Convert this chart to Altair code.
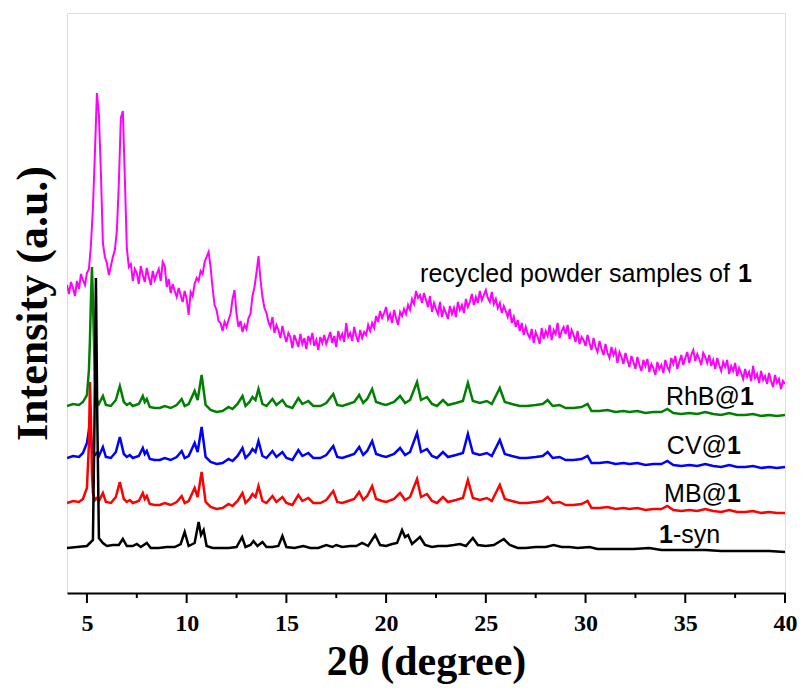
import altair as alt
import pandas as pd

# ---------------- data ----------------
# recycled powder samples of 1 (magenta), sampled every 0.1 deg from 4.0 to 40.0
theta_recycled = [round(4.0 + 0.1 * i, 1) for i in range(361)]
recycled = [
    308, 299, 311, 305, 297, 312, 304, 319, 313, 308,
    320, 324, 348, 385, 440, 500, 478, 420, 350, 336,
    330, 318, 327, 336, 343, 362, 410, 475, 482, 415,
    345, 326, 329, 312, 324, 320, 309, 327, 318, 311,
    325, 316, 308, 322, 313, 319, 324, 312, 331, 327,
    306, 314, 300, 309, 302, 296, 305, 298, 291, 302,
    294, 278, 301, 297, 309, 315, 312, 322, 319, 331,
    336, 341, 326, 305, 288, 283, 272, 270, 262, 271,
    266, 273, 279, 294, 303, 279, 266, 272, 261, 268,
    264, 275, 279, 297, 306, 320, 337, 314, 296, 285,
    280, 271, 266, 276, 260, 268, 263, 255, 267, 258,
    251, 260, 256, 245, 258, 252, 246, 259, 249, 255,
    244, 257, 251, 260, 247, 253, 243, 256, 250, 258,
    249, 255, 261, 250, 257, 246, 262, 254, 259, 251,
    270, 256, 260, 252, 266, 257, 251, 263, 255, 261,
    258, 268, 262, 270, 265, 277, 271, 282, 275, 280,
    286, 274, 279, 270, 283, 275, 268, 281, 277, 284,
    279, 288, 283, 294, 289, 302, 295, 298, 290, 300,
    293, 286, 297, 281, 290, 284, 279, 291, 276, 285,
    280, 274, 287, 279, 285, 276, 291, 283, 288, 280,
    294, 286, 291, 299, 288, 296, 290, 302, 293, 298,
    303, 295, 291, 301, 289, 294, 285, 290, 280, 287,
    282, 276, 284, 270, 276, 266, 273, 262, 270, 258,
    266, 259, 255, 264, 250, 261, 256, 249, 265, 254,
    262, 257, 268, 253, 263, 259, 270, 255, 262, 266,
    259, 268, 254, 263, 258, 251, 262, 249, 256, 253,
    247, 258, 250, 243, 255, 246, 241, 252, 244, 238,
    249, 240, 235, 246, 238, 243, 230, 241, 236, 229,
    240, 233, 226, 237, 231, 224, 236, 228, 222, 233,
    227, 234, 221, 229, 225, 218, 231, 224, 228, 220,
    233, 226, 222, 235, 229, 237, 224, 231, 238, 228,
    235, 241, 230, 238, 243, 232, 239, 234, 228, 240,
    236, 230, 238, 227, 233, 224, 235, 228, 222, 231,
    226, 233, 219, 227, 222, 230, 217, 225, 220, 214,
    224, 216, 221, 212, 227, 215, 219, 210, 222, 213,
    217, 209, 220, 212, 206, 218, 210, 214, 204, 212,
    209,
]

# dye-loaded samples share one 2theta list
theta_dye = [
    4.0, 4.3, 4.6, 4.8, 5.0, 5.1, 5.15, 5.2, 5.25, 5.3,
    5.4, 5.5, 5.6, 5.8, 5.95, 6.2, 6.45, 6.65, 6.85, 7.0,
    7.15, 7.3, 7.6, 7.8, 7.9, 8.0, 8.15, 8.4, 8.65, 8.9,
    9.2, 9.5, 9.75, 9.9, 10.1, 10.4, 10.55, 10.75, 10.95, 11.2,
    11.5, 11.8, 12.1, 12.3, 12.55, 12.8, 12.95, 13.15, 13.3, 13.45,
    13.6, 13.8, 14.0, 14.3, 14.5, 14.8, 15.0, 15.3, 15.6, 15.8,
    16.1, 16.35, 16.7, 17.0, 17.35, 17.55, 17.8, 18.1, 18.4, 18.65,
    18.85, 19.05, 19.3, 19.5, 19.8, 20.0, 20.4, 20.7, 20.95, 21.2,
    21.55, 21.75, 22.05, 22.3, 22.55, 22.85, 23.1, 23.5, 23.85, 24.1,
    24.35, 24.7, 25.05, 25.3, 25.7, 25.95, 26.3, 26.7, 27.05, 27.5,
    27.85, 28.1, 28.35, 28.7, 29.0, 29.4, 29.8, 30.1, 30.3, 30.7,
    31.1, 31.5, 31.9, 32.2, 32.6, 33.0, 33.4, 33.8, 34.1, 34.4,
    34.8, 35.2, 35.6, 36.0, 36.4, 36.8, 37.2, 37.6, 38.0, 38.4,
    38.8, 39.2, 39.6, 40.0,
]
rhb = [
    187, 189, 188, 191, 198, 223, 253, 293, 326, 293,
    213, 193, 189, 197, 188, 187, 193, 207, 191, 188,
    190, 187, 189, 197, 191, 194, 186, 185, 185, 187,
    185, 188, 194, 187, 189, 202, 193, 218, 188, 183,
    181, 182, 186, 184, 189, 197, 187, 191, 196, 193,
    204, 189, 187, 194, 188, 193, 187, 185, 195, 189,
    192, 187, 187, 190, 199, 188, 187, 189, 191, 198,
    190, 194, 204, 191, 189, 188, 191, 197, 190, 193,
    211, 193, 196, 189, 187, 193, 188, 190, 192, 210,
    192, 190, 192, 189, 205, 191, 189, 187, 187, 188,
    189, 193, 187, 188, 185, 185, 186, 189, 182, 182,
    183, 181, 182, 181, 182, 180, 181, 181, 184, 180,
    179, 180, 179, 181, 179, 178, 180, 178, 178, 179,
    177, 178, 177, 178,
]
cv = [
    135, 137, 136, 140, 150, 163, 176, 160, 146, 140,
    138, 140, 137, 146, 136, 135, 141, 156, 139, 136,
    138, 135, 137, 145, 139, 142, 134, 133, 133, 135,
    133, 136, 142, 135, 137, 150, 141, 166, 136, 131,
    129, 130, 134, 132, 137, 145, 135, 139, 144, 141,
    152, 137, 135, 142, 136, 141, 135, 133, 143, 137,
    140, 135, 135, 138, 147, 136, 135, 137, 139, 146,
    138, 142, 152, 139, 137, 136, 139, 145, 138, 141,
    160, 141, 144, 137, 135, 141, 136, 138, 140, 159,
    140, 138, 140, 137, 153, 139, 137, 135, 135, 136,
    137, 141, 135, 136, 133, 133, 134, 137, 130, 130,
    131, 129, 130, 129, 130, 128, 129, 129, 132, 128,
    127, 128, 127, 129, 127, 126, 128, 126, 126, 127,
    125, 126, 125, 126,
]
mb = [
    90, 92, 91, 94, 105, 150, 211, 175, 120, 100,
    93, 95, 92, 100, 91, 90, 96, 111, 94, 91,
    93, 90, 92, 100, 94, 97, 89, 88, 88, 90,
    88, 91, 97, 90, 92, 105, 96, 121, 91, 86,
    84, 85, 89, 87, 92, 100, 90, 94, 99, 96,
    107, 92, 90, 97, 91, 96, 90, 88, 98, 92,
    95, 90, 90, 93, 102, 91, 90, 92, 94, 101,
    93, 97, 107, 94, 92, 91, 94, 100, 93, 96,
    114, 96, 99, 92, 90, 96, 91, 93, 95, 113,
    95, 93, 95, 92, 108, 94, 92, 90, 90, 91,
    92, 96, 90, 91, 88, 88, 89, 92, 85, 85,
    86, 84, 85, 84, 85, 83, 84, 84, 87, 83,
    82, 83, 82, 84, 82, 81, 83, 81, 81, 82,
    80, 81, 80, 80,
]

# as-synthesized 1 (black)
theta_syn = [
    4.0, 4.5, 5.0, 5.3, 5.38, 5.45, 5.52, 5.6, 5.8, 6.0,
    6.3, 6.6, 6.8, 7.0, 7.3, 7.5, 7.7, 8.0, 8.2, 8.6,
    9.0, 9.4, 9.7, 9.9, 10.1, 10.4, 10.6, 10.72, 10.85, 11.0,
    11.3, 11.7, 12.1, 12.5, 12.78, 12.95, 13.2, 13.35, 13.55, 13.8,
    14.0, 14.3, 14.6, 14.8, 15.0, 15.4, 15.85, 16.2, 16.6, 17.0,
    17.3, 17.5, 17.8, 18.2, 18.5, 18.8, 19.1, 19.45, 19.7, 20.0,
    20.3, 20.55, 20.8, 20.95, 21.1, 21.3, 21.7, 21.95, 22.3, 22.6,
    23.05, 23.4, 23.7, 24.0, 24.35, 24.6, 25.0, 25.4, 25.9, 26.2,
    26.6, 27.0, 27.5, 28.0, 28.4, 28.8, 29.2, 29.6, 30.2, 30.6,
    31.2, 31.8, 32.4, 33.2, 33.8, 34.5, 35.2, 36.0, 36.8, 37.6,
    38.4, 39.2, 40.0,
]
syn = [
    45, 46, 47, 53, 173, 315, 173, 55, 50, 47,
    48, 48, 54, 47, 47, 49, 46, 50, 45, 45,
    46, 46, 49, 61, 47, 50, 71, 58, 63, 47,
    45, 45, 45, 46, 56, 46, 48, 52, 47, 51,
    46, 46, 47, 57, 46, 45, 47, 45, 45, 48,
    46, 48, 46, 47, 47, 50, 47, 58, 48, 47,
    49, 50, 63, 56, 58, 49, 56, 48, 46, 47,
    47, 48, 49, 47, 55, 48, 47, 48, 54, 48,
    45, 45, 46, 46, 48, 46, 46, 45, 46, 44,
    44, 44, 44, 45, 43, 43, 43, 43, 42, 42,
    42, 42, 41,
]

major_ticks = [5, 10, 15, 20, 25, 30, 35, 40]
minor_ticks = [7.5, 12.5, 17.5, 22.5, 27.5, 32.5, 37.5]

# curve labels: (text, 2theta, intensity)
labels_regular_right = [("recycled powder samples of", 37.24, 311),
                        ("RhB@", 37.74, 188), ("CV@", 37.09, 139), ("MB@", 37.09, 91)]
labels_bold_left = [("1", 37.64, 311), ("1", 37.74, 188), ("1", 37.09, 139), ("1", 37.09, 91)]
labels_bold_right = [("1", 34.38, 50)]
labels_regular_left = [("-syn", 34.38, 50)]

# ---------------- chart ----------------
SERIF = "Liberation Serif"
SANS = "Liberation Sans"
H = 580


def frame(th, vals):
    return pd.DataFrame({"theta": th, "intensity": vals})


x_scale = alt.Scale(domain=[4, 40], nice=False, zero=False)
y_scale = alt.Scale(domain=[0, 580], nice=False, zero=False)

x_axis = alt.Axis(values=major_ticks, title="2θ (degree)", grid=False, ticks=False,
                  domainWidth=2, domainColor="black",
                  labelFont=SERIF, labelFontWeight="bold", labelFontSize=24,
                  labelColor="black", labelPadding=18, labelFlush=False,
                  titleFont=SERIF, titleFontWeight="bold", titleFontSize=42,
                  titleColor="black", titlePadding=6)
y_axis = alt.Axis(title="Intensity (a.u.)", labels=False, ticks=False, domain=False,
                  grid=False, titleFont=SERIF, titleFontWeight="bold",
                  titleFontSize=44, titleColor="black", titlePadding=12)


def line(th, vals, color, width):
    return alt.Chart(frame(th, vals)).mark_line(color=color, strokeWidth=width, clip=True).encode(
        x=alt.X("theta:Q", scale=x_scale, axis=x_axis),
        y=alt.Y("intensity:Q", scale=y_scale, axis=y_axis),
    )


def text_layer(items, align, weight):
    df = pd.DataFrame(items, columns=["label", "theta", "intensity"])
    return alt.Chart(df).mark_text(align=align, baseline="alphabetic", font=SANS,
                                   fontSize=25, fontWeight=weight, color="black").encode(
        x=alt.X("theta:Q", scale=x_scale, axis=x_axis),
        y=alt.Y("intensity:Q", scale=y_scale, axis=y_axis),
        text="label:N",
    )


def tick_layer(values, length):
    return alt.Chart(pd.DataFrame({"theta": values})).mark_rule(
        color="black", strokeWidth=2, clip=False).encode(
        x=alt.X("theta:Q", scale=x_scale, axis=x_axis),
        y=alt.value(H),
        y2=alt.value(H + length),
    )


chart = alt.layer(
    line(theta_recycled, recycled, "#FF00FF", 2),
    line(theta_dye, cv, "#0000FF", 2.5),
    line(theta_dye, mb, "#FF0000", 2.5),
    line(theta_dye, rhb, "#008000", 2.5),
    line(theta_syn, syn, "#000000", 2.5),
    text_layer(labels_regular_right, "right", "normal"),
    text_layer(labels_bold_left, "left", "bold"),
    text_layer(labels_bold_right, "right", "bold"),
    text_layer(labels_regular_left, "left", "normal"),
    tick_layer(major_ticks, 10),
    tick_layer(minor_ticks, 5),
).properties(
    width=718, height=H,
    autosize=alt.AutoSizeParams(type="none"),
    padding={"left": 67, "top": 13, "right": 19, "bottom": 100},
).configure_view(stroke="black", strokeWidth=2).configure(background="white")

chart.save("out.html", embed_options={"renderer": "svg", "actions": False})
